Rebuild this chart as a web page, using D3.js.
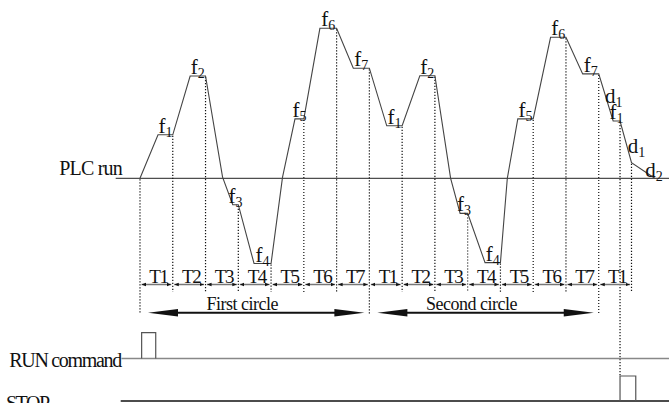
<!DOCTYPE html>
<html>
<head>
<meta charset="utf-8">
<script src="https://cdn.jsdelivr.net/npm/d3@7"></script>
<style>
  body { margin: 0; background: #fff; }
  svg { display: block; }
  text { font-family: "Liberation Serif", "Times New Roman", serif; fill: #111; }
</style>
</head>
<body>
<div id="chart"></div>
<script>
// Define svg width and height
var svgWidth = 669;
var svgHeight = 403;

// Each step: ramp until rampEnd, then hold the speed until stepEnd (seconds)
var rampEnd = [5.5, 15.3, 28.3, 34.8, 47.3, 54.9, 65.1, 75.3, 85.4, 97.7, 105.3, 115.3, 125.3, 135.1, 144.4];
var stepEnd = [10, 20, 30, 40, 50, 60, 70, 80, 90, 100, 110, 120, 130, 140, 146.5];
// speed of each step (Hz, negative = reverse run)
var stepFreq = [14.5, 34.1, -8.8, -28.4, 19.8, 50, 36.7, 17.5, 34.2, -11.7, -28.1, 19.8, 47, 34.8, 19.1];
var stepName = ["1", "2", "3", "4", "5", "6", "7", "1", "2", "3", "4", "5", "6", "7", "1"];

// points where the ramps bend while crossing zero
var bendTime = [25.2, 43.5, 94.8, 112.1];
var bendFreq = [0.4, 0.4, 0, 0];

// deceleration after the STOP command
var stopTime = [150, 157.1];
var stopFreq = [5.2, 0];
var decelName = ["1", "1", "2"];

// time row
var timeBounds = [0, 10, 20, 30, 40, 50, 60, 70, 80, 90, 100, 110, 120, 130, 140, 150];
var timeNames = ["T1", "T2", "T3", "T4", "T5", "T6", "T7", "T1", "T2", "T3", "T4", "T5", "T6", "T7", "T1"];

// cycles
var cycleNames = ["First circle", "Second circle"];
var cycleStart = [0, 70];
var cycleEnd = [70, 140];

// command pulses (start, end time)
var runPulse = [0.5, 4.8];
var stopPulse = [146.5, 151.3];

// layout rows
var rowY = 284.5;
var arrowY = 312.7;
var runY = 358.5;
var stopY = 401;

var svg = d3.select("#chart")
  .append("svg")
  .attr("width", svgWidth)
  .attr("height", svgHeight);

// scales
var x = d3.scaleLinear().domain([0, 150]).range([140, 631.5]);
var y = d3.scaleLinear().domain([0, 50]).range([178.3, 28.3]);

// build the speed curve
var pts = [[0, 0]];
stepEnd.forEach(function(t, i) {
  pts.push([rampEnd[i], stepFreq[i]]);
  pts.push([t, stepFreq[i]]);
});
bendTime.forEach(function(t, i) { pts.push([t, bendFreq[i]]); });
stopTime.forEach(function(t, i) { pts.push([t, stopFreq[i]]); });
pts.sort(function(a, b) { return a[0] - b[0]; });

function freqAt(t) {
  var p = pts.find(function(d) { return d[0] === t; });
  return p ? p[1] : 0;
}

// markers
var defs = svg.append("defs");
defs.append("marker")
  .attr("id", "tick")
  .attr("viewBox", "0 0 6 6")
  .attr("refX", 6)
  .attr("refY", 3)
  .attr("markerWidth", 4.5)
  .attr("markerHeight", 4.5)
  .attr("markerUnits", "userSpaceOnUse")
  .attr("orient", "auto-start-reverse")
  .append("path")
  .attr("d", "M0,0.6L6,3L0,5.4Z")
  .attr("fill", "#111");

// PLC run line
svg.append("line")
  .attr("x1", 115.7).attr("x2", svgWidth)
  .attr("y1", y(0)).attr("y2", y(0))
  .attr("stroke", "#222").attr("stroke-width", 1);

svg.append("text")
  .attr("x", 122).attr("y", 175)
  .attr("text-anchor", "end")
  .style("font-size", "20px")
  .style("letter-spacing", "-0.8px")
  .text("PLC run");

// dotted guides
var dotTimes = [0].concat(stepEnd).concat([stopTime[0]]);
svg.append("g").selectAll("line")
  .data(dotTimes)
  .enter()
  .append("line")
  .attr("x1", d => x(d)).attr("x2", d => x(d))
  .attr("y1", d => y(freqAt(d)) + 1)
  .attr("y2", function(d) {
    if (d === stopPulse[0]) return stopY - 25;
    if (cycleStart.indexOf(d) >= 0 || cycleEnd.indexOf(d) >= 0) return arrowY + 1.5;
    return rowY + 7.5;
  })
  .attr("stroke", "#111")
  .attr("stroke-width", 1.2)
  .attr("stroke-dasharray", "1.2,1.8");

// speed curve
var line = d3.line().x(d => x(d[0])).y(d => y(d[1]));
svg.append("path")
  .datum(pts)
  .attr("d", line)
  .attr("fill", "none")
  .attr("stroke", "#444")
  .attr("stroke-width", 1.1);

// step labels f1..f7
var fLabels = svg.append("g").selectAll("text")
  .data(stepName)
  .enter()
  .append("text")
  .attr("x", (d, i) => x((rampEnd[i] + stepEnd[i]) / 2))
  .attr("y", (d, i) => y(stepFreq[i]) - 2)
  .attr("text-anchor", "middle")
  .style("font-size", "21px");
fLabels.append("tspan").text("f");
fLabels.append("tspan").attr("dy", 4).style("font-size", "14px").text(d => d);

// deceleration labels d1, d1, d2
var decelRamps = [
  [[stepEnd[13], stepFreq[13]], [rampEnd[14], stepFreq[14]]],
  [[stepEnd[14], stepFreq[14]], [stopTime[0], stopFreq[0]]],
  [[stopTime[0], stopFreq[0]], [stopTime[1], stopFreq[1]]]
];
var decelShift = [[-1, 5.5], [2, 11], [2, 6]];
var dLabels = svg.append("g").selectAll("text")
  .data(decelName)
  .enter()
  .append("text")
  .attr("x", (d, i) => x((decelRamps[i][0][0] + decelRamps[i][1][0]) / 2) + decelShift[i][0])
  .attr("y", (d, i) => y((decelRamps[i][0][1] + decelRamps[i][1][1]) / 2) + decelShift[i][1])
  .style("font-size", "21px");
dLabels.append("tspan").text("d");
dLabels.append("tspan").attr("dy", 4).style("font-size", "14px").text(d => d);

// time row
var segs = timeNames.map((n, i) => ({ name: n, t0: timeBounds[i], t1: timeBounds[i + 1] }));
svg.append("g").selectAll("line")
  .data(segs)
  .enter()
  .append("line")
  .attr("x1", d => x(d.t0) + 1.5)
  .attr("x2", d => x(d.t1) - 1.5)
  .attr("y1", rowY).attr("y2", rowY)
  .attr("stroke", "#777")
  .attr("stroke-width", 1.5)
  .attr("marker-start", "url(#tick)")
  .attr("marker-end", "url(#tick)");

svg.append("g").selectAll("text")
  .data(segs)
  .enter()
  .append("text")
  .attr("x", d => (x(d.t0) + x(d.t1)) / 2 + 2)
  .attr("y", rowY - 2)
  .attr("text-anchor", "middle")
  .style("font-size", "19px")
  .style("letter-spacing", "-1.5px")
  .text(d => d.name);

// cycle arrows
cycleNames.forEach(function(name, i) {
  var xa = x(cycleStart[i]) + 8;
  var xb = x(cycleEnd[i]) - 5;
  var g = svg.append("g");
  g.append("line")
    .attr("x1", xa + 20).attr("x2", xb - 20)
    .attr("y1", arrowY).attr("y2", arrowY)
    .attr("stroke", "#111").attr("stroke-width", 2);
  g.append("path")
    .attr("d", `M${xa},${arrowY}L${xa + 30},${arrowY - 3.8}L${xa + 30},${arrowY + 3.8}Z`)
    .attr("fill", "#111");
  g.append("path")
    .attr("d", `M${xb},${arrowY}L${xb - 30},${arrowY - 3.8}L${xb - 30},${arrowY + 3.8}Z`)
    .attr("fill", "#111");
  g.append("text")
    .attr("x", (xa + xb) / 2 - 14)
    .attr("y", arrowY - 3)
    .attr("text-anchor", "middle")
    .style("font-size", "18px")
    .style("letter-spacing", "-0.5px")
    .text(name);
});

// RUN command signal
svg.append("line")
  .attr("x1", 121.5).attr("x2", svgWidth)
  .attr("y1", runY).attr("y2", runY)
  .attr("stroke", "#888").attr("stroke-width", 1.5);
svg.append("path")
  .attr("d", `M${x(runPulse[0])},${runY}V${runY - 25.8}H${x(runPulse[1])}V${runY}`)
  .attr("fill", "none").attr("stroke", "#555").attr("stroke-width", 1.2);
svg.append("text")
  .attr("x", 121).attr("y", 367)
  .attr("text-anchor", "end")
  .style("font-size", "20px")
  .style("letter-spacing", "-1.3px")
  .text("RUN command");

// STOP signal
svg.append("line")
  .attr("x1", 120.7).attr("x2", svgWidth)
  .attr("y1", stopY).attr("y2", stopY)
  .attr("stroke", "#111").attr("stroke-width", 1.5);
svg.append("path")
  .attr("d", `M${x(stopPulse[0])},${stopY}V${stopY - 25}H${x(stopPulse[1])}V${stopY}`)
  .attr("fill", "none").attr("stroke", "#555").attr("stroke-width", 1.2);
svg.append("text")
  .attr("x", 6).attr("y", 410)
  .style("font-size", "20px")
  .style("letter-spacing", "-1.5px")
  .text("STOP");
</script>
</body>
</html>
